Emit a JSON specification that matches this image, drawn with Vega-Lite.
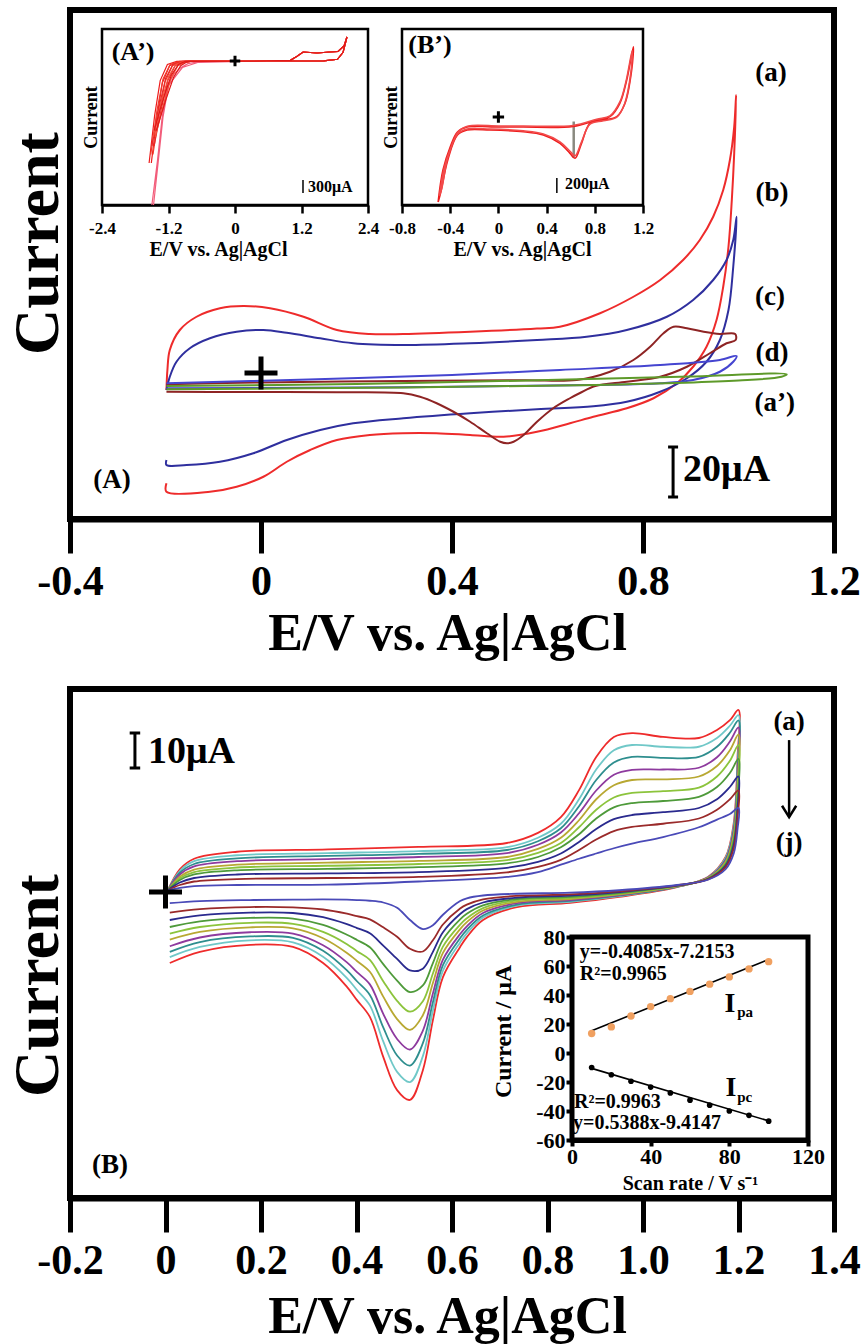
{
"$schema": "https://vega.github.io/schema/vega-lite/v6.json",
"width": 862, "height": 1344, "autosize": "none", "padding": 0, "background": "white",
"config": {
  "view": {"stroke": null},
  "font": "Liberation Serif",
  "axis": {"grid": false, "labelFont": "Liberation Serif", "titleFont": "Liberation Serif", "labelFontWeight": "bold", "titleFontWeight": "bold", "labelColor": "black", "titleColor": "black", "domainColor": "black", "tickColor": "black", "labelFlush": false, "labelOverlap": false},
  "text": {"font": "Liberation Serif", "fontWeight": "bold", "color": "black"}
},
"datasets": {
"A": [
{"c":"a","v":-0.198,"y":-44.1},{"c":"a","v":-0.198,"y":-47.5},{"c":"a","v":-0.107,"y":-47.5},{"c":"a","v":-0.051,"y":-45.5},{"c":"a","v":0.005,"y":-41.5},{"c":"a","v":0.054,"y":-35.5},{"c":"a","v":0.103,"y":-30.8},{"c":"a","v":0.159,"y":-26.8},{"c":"a","v":0.228,"y":-24.8},{"c":"a","v":0.297,"y":-24.1},{"c":"a","v":0.367,"y":-24.1},{"c":"a","v":0.438,"y":-24.8},{"c":"a","v":0.508,"y":-25.5},{"c":"a","v":0.578,"y":-23.5},{"c":"a","v":0.647,"y":-20.1},{"c":"a","v":0.696,"y":-17.5},{"c":"a","v":0.766,"y":-14.1},{"c":"a","v":0.822,"y":-10.1},{"c":"a","v":0.871,"y":-4.1},{"c":"a","v":0.905,"y":2.5},{"c":"a","v":0.933,"y":10.5},{"c":"a","v":0.954,"y":21.2},{"c":"a","v":0.968,"y":34.5},{"c":"a","v":0.979,"y":50.5},{"c":"a","v":0.986,"y":69.2},{"c":"a","v":0.991,"y":87.9},{"c":"a","v":0.995,"y":111.2},{"c":"a","v":0.991,"y":98.5},{"c":"a","v":0.982,"y":85.2},{"c":"a","v":0.968,"y":73.2},{"c":"a","v":0.947,"y":62.5},{"c":"a","v":0.919,"y":53.2},{"c":"a","v":0.884,"y":45.2},{"c":"a","v":0.836,"y":37.2},{"c":"a","v":0.78,"y":30.5},{"c":"a","v":0.71,"y":23.9},{"c":"a","v":0.626,"y":18.5},{"c":"a","v":0.578,"y":17.8},{"c":"a","v":0.438,"y":16.5},{"c":"a","v":0.298,"y":15.6},{"c":"a","v":0.228,"y":15.6},{"c":"a","v":0.159,"y":17.2},{"c":"a","v":0.089,"y":22.5},{"c":"a","v":0.019,"y":25.9},{"c":"a","v":-0.037,"y":26.8},{"c":"a","v":-0.086,"y":25.9},{"c":"a","v":-0.135,"y":22.5},{"c":"a","v":-0.17,"y":17.2},{"c":"a","v":-0.191,"y":9.2},{"c":"a","v":-0.196,"y":1.2},{"c":"a","v":-0.198,"y":-6.8},
{"c":"b","v":-0.198,"y":-34.8},{"c":"b","v":-0.198,"y":-36.8},{"c":"b","v":-0.156,"y":-36.8},{"c":"b","v":-0.086,"y":-35.5},{"c":"b","v":-0.016,"y":-32.1},{"c":"b","v":0.054,"y":-26.8},{"c":"b","v":0.124,"y":-22.8},{"c":"b","v":0.193,"y":-20.1},{"c":"b","v":0.298,"y":-18.1},{"c":"b","v":0.438,"y":-16.1},{"c":"b","v":0.578,"y":-14.5},{"c":"b","v":0.696,"y":-13.3},{"c":"b","v":0.766,"y":-11.5},{"c":"b","v":0.836,"y":-7.5},{"c":"b","v":0.892,"y":-2.1},{"c":"b","v":0.933,"y":4.5},{"c":"b","v":0.961,"y":13.2},{"c":"b","v":0.979,"y":25.2},{"c":"b","v":0.989,"y":42.5},{"c":"b","v":0.996,"y":62.5},{"c":"b","v":0.989,"y":53.2},{"c":"b","v":0.975,"y":45.2},{"c":"b","v":0.947,"y":37.2},{"c":"b","v":0.905,"y":29.2},{"c":"b","v":0.85,"y":22.5},{"c":"b","v":0.766,"y":17.2},{"c":"b","v":0.682,"y":14.5},{"c":"b","v":0.578,"y":13.2},{"c":"b","v":0.438,"y":11.9},{"c":"b","v":0.298,"y":11.2},{"c":"b","v":0.193,"y":11.9},{"c":"b","v":0.124,"y":13.9},{"c":"b","v":0.054,"y":16.1},{"c":"b","v":0.005,"y":17.2},{"c":"b","v":-0.051,"y":16.5},{"c":"b","v":-0.107,"y":13.9},{"c":"b","v":-0.149,"y":9.9},{"c":"b","v":-0.177,"y":4.5},{"c":"b","v":-0.191,"y":-1.5},{"c":"b","v":-0.198,"y":-6.8},
{"c":"c","v":-0.198,"y":-4.5},{"c":"c","v":0.0,"y":-3.8},{"c":"c","v":0.3,"y":-3.2},{"c":"c","v":0.55,"y":-2.9},{"c":"c","v":0.661,"y":-2.8},{"c":"c","v":0.731,"y":0.5},{"c":"c","v":0.78,"y":5.2},{"c":"c","v":0.815,"y":10.5},{"c":"c","v":0.843,"y":15.9},{"c":"c","v":0.864,"y":18.5},{"c":"c","v":0.892,"y":17.9},{"c":"c","v":0.927,"y":16.5},{"c":"c","v":0.961,"y":15.6},{"c":"c","v":0.993,"y":15.6},{"c":"c","v":0.994,"y":13.2},{"c":"c","v":0.975,"y":11.9},{"c":"c","v":0.94,"y":7.9},{"c":"c","v":0.892,"y":2.5},{"c":"c","v":0.836,"y":-1.5},{"c":"c","v":0.766,"y":-3.5},{"c":"c","v":0.7,"y":-5.2},{"c":"c","v":0.668,"y":-8},{"c":"c","v":0.647,"y":-10.1},{"c":"c","v":0.612,"y":-14.1},{"c":"c","v":0.578,"y":-19.5},{"c":"c","v":0.55,"y":-24.8},{"c":"c","v":0.529,"y":-27.5},{"c":"c","v":0.515,"y":-28.1},{"c":"c","v":0.501,"y":-27.5},{"c":"c","v":0.473,"y":-24.1},{"c":"c","v":0.438,"y":-19.5},{"c":"c","v":0.403,"y":-15.5},{"c":"c","v":0.368,"y":-12.1},{"c":"c","v":0.333,"y":-9.5},{"c":"c","v":0.298,"y":-8.1},{"c":"c","v":0.159,"y":-7.7},{"c":"c","v":-0.051,"y":-7.6},{"c":"c","v":-0.198,"y":-7.5},
{"c":"d","v":-0.198,"y":-4.1},{"c":"d","v":0.1,"y":-2.6},{"c":"d","v":0.4,"y":-0.8},{"c":"d","v":0.626,"y":1.2},{"c":"d","v":0.836,"y":3.2},{"c":"d","v":0.961,"y":5.2},{"c":"d","v":0.996,"y":6.8},{"c":"d","v":0.989,"y":4.5},{"c":"d","v":0.961,"y":0.5},{"c":"d","v":0.905,"y":-2.8},{"c":"d","v":0.836,"y":-4.1},{"c":"d","v":0.696,"y":-4.8},{"c":"d","v":0.298,"y":-5.7},{"c":"d","v":-0.198,"y":-6.1},
{"c":"a2","v":-0.198,"y":-5.2},{"c":"a2","v":0.2,"y":-4.4},{"c":"a2","v":0.6,"y":-2.8},{"c":"a2","v":0.9,"y":-1.4},{"c":"a2","v":1.101,"y":-0.5},{"c":"a2","v":1.09,"y":-1.5},{"c":"a2","v":1.0,"y":-3.0},{"c":"a2","v":0.7,"y":-4.8},{"c":"a2","v":0.3,"y":-5.8},{"c":"a2","v":-0.198,"y":-6.5}
],
"An": [
{"k":"lab","v":1.068,"y":120,"t":"(a)"},{"k":"lab","v":1.07,"y":72,"t":"(b)"},{"k":"lab","v":1.066,"y":30.4,"t":"(c)"},{"k":"lab","v":1.07,"y":8,"t":"(d)"},{"k":"lab","v":1.076,"y":-12,"t":"(a’)"},{"k":"lab","v":-0.312,"y":-42.8,"t":"(A)"},
{"k":"big","v":0.884,"y":-38.8,"t":"20μA"},{"k":"plus","v":0,"y":0},{"k":"bar","v":0.863,"y":-39.6}
],
"P1": [
{"c":"p","v":-1.5,"y":-3312},{"c":"p","v":-1.4,"y":-2300},{"c":"p","v":-1.32,"y":-1357},{"c":"p","v":-1.23,"y":-598},{"c":"p","v":-1.1,"y":-300},{"c":"p","v":-0.99,"y":-161},{"c":"p","v":-0.85,"y":-60},{"c":"p","v":-0.69,"y":-23},{"c":"p","v":0.5,"y":0},{"c":"p","v":1.6,"y":5},{"c":"p","v":1.85,"y":40},{"c":"p","v":1.95,"y":200},{"c":"p","v":2.02,"y":552},{"c":"p","v":1.97,"y":350},{"c":"p","v":1.86,"y":220},{"c":"p","v":1.71,"y":207},{"c":"p","v":1.48,"y":184},{"c":"p","v":1.23,"y":207},{"c":"p","v":1.12,"y":110},{"c":"p","v":1.0,"y":15},{"c":"p","v":0.3,"y":-5},{"c":"p","v":-0.66,"y":-30},{"c":"p","v":-0.95,"y":-150},{"c":"p","v":-1.2,"y":-560},{"c":"p","v":-1.3,"y":-1300},{"c":"p","v":-1.38,"y":-2250},{"c":"p","v":-1.47,"y":-3312},
{"c":"k1","v":-1.55,"y":-2346},{"c":"k1","v":-1.45,"y":-1250},{"c":"k1","v":-1.35,"y":-450},{"c":"k1","v":-1.22,"y":-80},{"c":"k1","v":-1.05,"y":-10},{"c":"k1","v":-0.8,"y":0},{"c":"k1","v":0.5,"y":0},{"c":"k1","v":1.6,"y":5},{"c":"k1","v":1.85,"y":40},{"c":"k1","v":1.95,"y":200},{"c":"k1","v":2.02,"y":552},{"c":"k1","v":1.97,"y":350},{"c":"k1","v":1.86,"y":220},{"c":"k1","v":1.71,"y":207},{"c":"k1","v":1.48,"y":184},{"c":"k1","v":1.23,"y":207},{"c":"k1","v":1.12,"y":110},{"c":"k1","v":1.0,"y":15},{"c":"k1","v":0.3,"y":-5},{"c":"k1","v":-0.8,"y":-8},{"c":"k1","v":-1.02,"y":-25},{"c":"k1","v":-1.18,"y":-110},{"c":"k1","v":-1.31,"y":-500},{"c":"k1","v":-1.41,"y":-1300},{"c":"k1","v":-1.51,"y":-2346},
{"c":"k2","v":-1.52,"y":-2150},{"c":"k2","v":-1.41,"y":-1150},{"c":"k2","v":-1.3,"y":-420},{"c":"k2","v":-1.17,"y":-80},{"c":"k2","v":-1.0,"y":-10},{"c":"k2","v":-0.8,"y":0},{"c":"k2","v":0.5,"y":0},{"c":"k2","v":1.6,"y":5},{"c":"k2","v":1.85,"y":40},{"c":"k2","v":1.95,"y":200},{"c":"k2","v":2.02,"y":552},{"c":"k2","v":1.97,"y":350},{"c":"k2","v":1.86,"y":220},{"c":"k2","v":1.71,"y":207},{"c":"k2","v":1.48,"y":184},{"c":"k2","v":1.23,"y":207},{"c":"k2","v":1.12,"y":110},{"c":"k2","v":1.0,"y":15},{"c":"k2","v":0.3,"y":-5},{"c":"k2","v":-0.8,"y":-8},{"c":"k2","v":-0.97,"y":-25},{"c":"k2","v":-1.13,"y":-110},{"c":"k2","v":-1.26,"y":-470},{"c":"k2","v":-1.37,"y":-1200},{"c":"k2","v":-1.48,"y":-2150},
{"c":"k3","v":-1.5,"y":-1950},{"c":"k3","v":-1.37,"y":-1050},{"c":"k3","v":-1.25,"y":-390},{"c":"k3","v":-1.12,"y":-80},{"c":"k3","v":-0.95,"y":-10},{"c":"k3","v":-0.8,"y":0},{"c":"k3","v":0.5,"y":0},{"c":"k3","v":1.6,"y":5},{"c":"k3","v":1.85,"y":40},{"c":"k3","v":1.95,"y":200},{"c":"k3","v":2.02,"y":552},{"c":"k3","v":1.97,"y":350},{"c":"k3","v":1.86,"y":220},{"c":"k3","v":1.71,"y":207},{"c":"k3","v":1.48,"y":184},{"c":"k3","v":1.23,"y":207},{"c":"k3","v":1.12,"y":110},{"c":"k3","v":1.0,"y":15},{"c":"k3","v":0.3,"y":-5},{"c":"k3","v":-0.8,"y":-8},{"c":"k3","v":-0.92,"y":-25},{"c":"k3","v":-1.08,"y":-110},{"c":"k3","v":-1.21,"y":-440},{"c":"k3","v":-1.33,"y":-1100},{"c":"k3","v":-1.46,"y":-1950},
{"c":"k4","v":-1.48,"y":-1750},{"c":"k4","v":-1.33,"y":-950},{"c":"k4","v":-1.2,"y":-360},{"c":"k4","v":-1.07,"y":-80},{"c":"k4","v":-0.92,"y":-10},{"c":"k4","v":-0.8,"y":0},{"c":"k4","v":0.5,"y":0},{"c":"k4","v":1.6,"y":5},{"c":"k4","v":1.85,"y":40},{"c":"k4","v":1.95,"y":200},{"c":"k4","v":2.02,"y":552},{"c":"k4","v":1.97,"y":350},{"c":"k4","v":1.86,"y":220},{"c":"k4","v":1.71,"y":207},{"c":"k4","v":1.48,"y":184},{"c":"k4","v":1.23,"y":207},{"c":"k4","v":1.12,"y":110},{"c":"k4","v":1.0,"y":15},{"c":"k4","v":0.3,"y":-5},{"c":"k4","v":-0.8,"y":-8},{"c":"k4","v":-0.89,"y":-25},{"c":"k4","v":-1.03,"y":-110},{"c":"k4","v":-1.16,"y":-410},{"c":"k4","v":-1.29,"y":-1000},{"c":"k4","v":-1.44,"y":-1750},
{"c":"k5","v":-1.46,"y":-1600},{"c":"k5","v":-1.29,"y":-850},{"c":"k5","v":-1.15,"y":-330},{"c":"k5","v":-1.02,"y":-80},{"c":"k5","v":-0.9,"y":-10},{"c":"k5","v":-0.8,"y":0},{"c":"k5","v":0.5,"y":0},{"c":"k5","v":1.6,"y":5},{"c":"k5","v":1.85,"y":40},{"c":"k5","v":1.95,"y":200},{"c":"k5","v":2.02,"y":552},{"c":"k5","v":1.97,"y":350},{"c":"k5","v":1.86,"y":220},{"c":"k5","v":1.71,"y":207},{"c":"k5","v":1.48,"y":184},{"c":"k5","v":1.23,"y":207},{"c":"k5","v":1.12,"y":110},{"c":"k5","v":1.0,"y":15},{"c":"k5","v":0.3,"y":-5},{"c":"k5","v":-0.8,"y":-8},{"c":"k5","v":-0.87,"y":-25},{"c":"k5","v":-0.98,"y":-110},{"c":"k5","v":-1.11,"y":-380},{"c":"k5","v":-1.25,"y":-900},{"c":"k5","v":-1.42,"y":-1600}
],
"P1n": [
{"k":"lab","v":-1.84,"y":207,"t":"(A’)"},{"k":"sm","v":1.318,"y":-2898,"t":"300μA"},{"k":"plus","v":0,"y":0},{"k":"bar","v":1.227,"y":-2737,"y2":-3036}
],
"P2": [
{"c":"r1","v":-0.5,"y":-1130},{"c":"r1","v":-0.46,"y":-705},{"c":"r1","v":-0.4,"y":-400},{"c":"r1","v":-0.34,"y":-200},{"c":"r1","v":-0.26,"y":-133},{"c":"r1","v":0.0,"y":-133},{"c":"r1","v":0.2,"y":-133},{"c":"r1","v":0.62,"y":-125},{"c":"r1","v":0.816,"y":-40},{"c":"r1","v":0.926,"y":4},{"c":"r1","v":1.008,"y":182},{"c":"r1","v":1.065,"y":492},{"c":"r1","v":1.12,"y":935},{"c":"r1","v":1.106,"y":625},{"c":"r1","v":1.051,"y":182},{"c":"r1","v":0.982,"y":4},{"c":"r1","v":0.871,"y":-40},{"c":"r1","v":0.76,"y":-84},{"c":"r1","v":0.69,"y":-350},{"c":"r1","v":0.636,"y":-549},{"c":"r1","v":0.594,"y":-483},{"c":"r1","v":0.511,"y":-350},{"c":"r1","v":0.373,"y":-239},{"c":"r1","v":0.207,"y":-195},{"c":"r1","v":-0.07,"y":-173},{"c":"r1","v":-0.26,"y":-173},{"c":"r1","v":-0.34,"y":-240},{"c":"r1","v":-0.42,"y":-572},{"c":"r1","v":-0.48,"y":-1011},{"c":"r1","v":-0.5,"y":-1130},
{"c":"r2","v":-0.49,"y":-1050},{"c":"r2","v":-0.45,"y":-680},{"c":"r2","v":-0.39,"y":-390},{"c":"r2","v":-0.33,"y":-190},{"c":"r2","v":-0.25,"y":-120},{"c":"r2","v":0.0,"y":-120},{"c":"r2","v":0.2,"y":-120},{"c":"r2","v":0.62,"y":-112},{"c":"r2","v":0.816,"y":-30},{"c":"r2","v":0.926,"y":14},{"c":"r2","v":1.008,"y":200},{"c":"r2","v":1.06,"y":480},{"c":"r2","v":1.11,"y":880},{"c":"r2","v":1.1,"y":600},{"c":"r2","v":1.046,"y":170},{"c":"r2","v":0.98,"y":-6},{"c":"r2","v":0.871,"y":-50},{"c":"r2","v":0.76,"y":-95},{"c":"r2","v":0.69,"y":-330},{"c":"r2","v":0.636,"y":-515},{"c":"r2","v":0.594,"y":-455},{"c":"r2","v":0.511,"y":-330},{"c":"r2","v":0.373,"y":-225},{"c":"r2","v":0.207,"y":-185},{"c":"r2","v":-0.07,"y":-160},{"c":"r2","v":-0.26,"y":-160},{"c":"r2","v":-0.34,"y":-230},{"c":"r2","v":-0.42,"y":-540},{"c":"r2","v":-0.47,"y":-950},{"c":"r2","v":-0.49,"y":-1050}
],
"P2n": [
{"k":"lab","v":-0.568,"y":958,"t":"(B’)"},{"k":"sm","v":0.552,"y":-891,"t":"200μA"},{"k":"plus","v":0,"y":0},{"k":"bar","v":0.485,"y":-811,"y2":-1011},{"k":"gray","v":0.625,"y":-60,"y2":-540}
],
"B": [
{"c":"a","v":0.005,"y":0.5},{"c":"a","v":0.03,"y":6.5},{"c":"a","v":0.06,"y":9.5},{"c":"a","v":0.15,"y":11.5},{"c":"a","v":0.34,"y":12.2},{"c":"a","v":0.53,"y":12.9},{"c":"a","v":0.715,"y":14},{"c":"a","v":0.78,"y":16.9},{"c":"a","v":0.828,"y":21.4},{"c":"a","v":0.866,"y":29.1},{"c":"a","v":0.902,"y":38.6},{"c":"a","v":0.939,"y":44.3},{"c":"a","v":0.977,"y":45.4},{"c":"a","v":1.042,"y":44.3},{"c":"a","v":1.117,"y":44},{"c":"a","v":1.155,"y":46.3},{"c":"a","v":1.182,"y":49.1},{"c":"a","v":1.2,"y":52},
{"c":"a","v":1.198,"y":38.6},{"c":"a","v":1.19,"y":19.7},{"c":"a","v":1.173,"y":10},{"c":"a","v":1.136,"y":4.3},{"c":"a","v":1.071,"y":1.4},{"c":"a","v":0.95,"y":-1.4},{"c":"a","v":0.847,"y":-3.1},{"c":"a","v":0.736,"y":-4.3},
{"c":"a","v":0.665,"y":-8},{"c":"a","v":0.631,"y":-12.9},{"c":"a","v":0.617,"y":-15.7},{"c":"a","v":0.581,"y":-24.3},{"c":"a","v":0.56,"y":-36.6},{"c":"a","v":0.539,"y":-50.9},{"c":"a","v":0.512,"y":-59.4},{"c":"a","v":0.485,"y":-56.6},{"c":"a","v":0.456,"y":-47.1},{"c":"a","v":0.428,"y":-35.7},{"c":"a","v":0.401,"y":-30.9},{"c":"a","v":0.38,"y":-27.1},{"c":"a","v":0.33,"y":-20.3},{"c":"a","v":0.267,"y":-15.7},{"c":"a","v":0.177,"y":-15.1},{"c":"a","v":0.072,"y":-17.1},{"c":"a","v":0.009,"y":-20.3},
{"c":"b","v":0.005,"y":0.5},{"c":"b","v":0.03,"y":6},{"c":"b","v":0.06,"y":8.8},{"c":"b","v":0.15,"y":10.5},{"c":"b","v":0.34,"y":11.1},{"c":"b","v":0.53,"y":11.7},{"c":"b","v":0.715,"y":12.8},{"c":"b","v":0.78,"y":15.5},{"c":"b","v":0.828,"y":19.5},{"c":"b","v":0.866,"y":26.5},{"c":"b","v":0.902,"y":35},{"c":"b","v":0.939,"y":40.5},{"c":"b","v":0.977,"y":42},{"c":"b","v":1.042,"y":41.5},{"c":"b","v":1.117,"y":41.5},{"c":"b","v":1.155,"y":44},{"c":"b","v":1.182,"y":47.5},{"c":"b","v":1.2,"y":50.5},
{"c":"b","v":1.198,"y":36.5},{"c":"b","v":1.19,"y":18.8},{"c":"b","v":1.173,"y":9.7},{"c":"b","v":1.136,"y":4.2},{"c":"b","v":1.071,"y":1.5},{"c":"b","v":0.95,"y":-1.2},{"c":"b","v":0.847,"y":-2.8},{"c":"b","v":0.736,"y":-3.9},
{"c":"b","v":0.665,"y":-7.3},{"c":"b","v":0.631,"y":-11.8},{"c":"b","v":0.617,"y":-14.4},{"c":"b","v":0.581,"y":-22.5},{"c":"b","v":0.56,"y":-33.9},{"c":"b","v":0.539,"y":-46.9},{"c":"b","v":0.512,"y":-54.3},{"c":"b","v":0.485,"y":-51.4},{"c":"b","v":0.456,"y":-42.7},{"c":"b","v":0.428,"y":-32.4},{"c":"b","v":0.401,"y":-28},{"c":"b","v":0.38,"y":-24.6},{"c":"b","v":0.33,"y":-18.5},{"c":"b","v":0.267,"y":-14.4},{"c":"b","v":0.177,"y":-13.8},{"c":"b","v":0.072,"y":-15.7},{"c":"b","v":0.009,"y":-18.6},
{"c":"c","v":0.005,"y":0.5},{"c":"c","v":0.03,"y":5.5},{"c":"c","v":0.06,"y":8},{"c":"c","v":0.15,"y":9.6},{"c":"c","v":0.34,"y":10.3},{"c":"c","v":0.53,"y":10.9},{"c":"c","v":0.715,"y":12},{"c":"c","v":0.78,"y":14.5},{"c":"c","v":0.828,"y":18.2},{"c":"c","v":0.866,"y":24.5},{"c":"c","v":0.902,"y":32},{"c":"c","v":0.939,"y":37},{"c":"c","v":0.977,"y":38.6},{"c":"c","v":1.042,"y":38.3},{"c":"c","v":1.117,"y":38.6},{"c":"c","v":1.155,"y":41.5},{"c":"c","v":1.182,"y":45.5},{"c":"c","v":1.2,"y":49},
{"c":"c","v":1.198,"y":34.7},{"c":"c","v":1.19,"y":18},{"c":"c","v":1.173,"y":9.3},{"c":"c","v":1.136,"y":4.1},{"c":"c","v":1.071,"y":1.5},{"c":"c","v":0.95,"y":-1},{"c":"c","v":0.847,"y":-2.5},{"c":"c","v":0.736,"y":-3.6},
{"c":"c","v":0.665,"y":-6.7},{"c":"c","v":0.631,"y":-10.8},{"c":"c","v":0.617,"y":-13.2},{"c":"c","v":0.581,"y":-20.9},{"c":"c","v":0.56,"y":-31.5},{"c":"c","v":0.539,"y":-43.2},{"c":"c","v":0.512,"y":-49.6},{"c":"c","v":0.485,"y":-46.7},{"c":"c","v":0.456,"y":-38.7},{"c":"c","v":0.428,"y":-29.4},{"c":"c","v":0.401,"y":-25.5},{"c":"c","v":0.38,"y":-22.4},{"c":"c","v":0.33,"y":-16.8},{"c":"c","v":0.267,"y":-13.1},{"c":"c","v":0.177,"y":-12.7},{"c":"c","v":0.072,"y":-14.3},{"c":"c","v":0.009,"y":-17.1},
{"c":"d","v":0.005,"y":0.5},{"c":"d","v":0.03,"y":5},{"c":"d","v":0.06,"y":7.3},{"c":"d","v":0.15,"y":8.8},{"c":"d","v":0.34,"y":9.4},{"c":"d","v":0.53,"y":10},{"c":"d","v":0.715,"y":11.1},{"c":"d","v":0.78,"y":13.5},{"c":"d","v":0.828,"y":17},{"c":"d","v":0.866,"y":22.5},{"c":"d","v":0.902,"y":29},{"c":"d","v":0.939,"y":33.5},{"c":"d","v":0.977,"y":34.9},{"c":"d","v":1.042,"y":35},{"c":"d","v":1.117,"y":35.5},{"c":"d","v":1.155,"y":38.5},{"c":"d","v":1.182,"y":43},{"c":"d","v":1.2,"y":47},
{"c":"d","v":1.198,"y":32.8},{"c":"d","v":1.19,"y":17.3},{"c":"d","v":1.173,"y":9},{"c":"d","v":1.136,"y":4.1},{"c":"d","v":1.071,"y":1.6},{"c":"d","v":0.95,"y":-0.9},{"c":"d","v":0.847,"y":-2.3},{"c":"d","v":0.736,"y":-3.2},
{"c":"d","v":0.665,"y":-6},{"c":"d","v":0.631,"y":-9.8},{"c":"d","v":0.617,"y":-12},{"c":"d","v":0.581,"y":-19.3},{"c":"d","v":0.56,"y":-29},{"c":"d","v":0.539,"y":-39.6},{"c":"d","v":0.512,"y":-45},{"c":"d","v":0.485,"y":-42},{"c":"d","v":0.456,"y":-34.8},{"c":"d","v":0.428,"y":-26.4},{"c":"d","v":0.401,"y":-22.9},{"c":"d","v":0.38,"y":-20.1},{"c":"d","v":0.33,"y":-15.2},{"c":"d","v":0.267,"y":-11.9},{"c":"d","v":0.177,"y":-11.5},{"c":"d","v":0.072,"y":-13},{"c":"d","v":0.009,"y":-15.5},
{"c":"e","v":0.005,"y":0.5},{"c":"e","v":0.03,"y":4.4},{"c":"e","v":0.06,"y":6.4},{"c":"e","v":0.15,"y":7.8},{"c":"e","v":0.34,"y":8.4},{"c":"e","v":0.53,"y":8.9},{"c":"e","v":0.715,"y":10},{"c":"e","v":0.78,"y":12.3},{"c":"e","v":0.828,"y":15.5},{"c":"e","v":0.866,"y":20.5},{"c":"e","v":0.902,"y":26.5},{"c":"e","v":0.939,"y":30.5},{"c":"e","v":0.977,"y":32},{"c":"e","v":1.042,"y":32.2},{"c":"e","v":1.117,"y":33},{"c":"e","v":1.155,"y":36},{"c":"e","v":1.182,"y":40.5},{"c":"e","v":1.2,"y":45},
{"c":"e","v":1.198,"y":30.6},{"c":"e","v":1.19,"y":16.3},{"c":"e","v":1.173,"y":8.6},{"c":"e","v":1.136,"y":4},{"c":"e","v":1.071,"y":1.6},{"c":"e","v":0.95,"y":-0.7},{"c":"e","v":0.847,"y":-2},{"c":"e","v":0.736,"y":-2.8},
{"c":"e","v":0.665,"y":-5.3},{"c":"e","v":0.631,"y":-8.6},{"c":"e","v":0.617,"y":-10.6},{"c":"e","v":0.581,"y":-17.4},{"c":"e","v":0.56,"y":-26},{"c":"e","v":0.539,"y":-35.2},{"c":"e","v":0.512,"y":-39.4},{"c":"e","v":0.485,"y":-36.3},{"c":"e","v":0.456,"y":-29.9},{"c":"e","v":0.428,"y":-22.8},{"c":"e","v":0.401,"y":-19.7},{"c":"e","v":0.38,"y":-17.4},{"c":"e","v":0.33,"y":-13.2},{"c":"e","v":0.267,"y":-10.4},{"c":"e","v":0.177,"y":-10.1},{"c":"e","v":0.072,"y":-11.4},{"c":"e","v":0.009,"y":-13.6},
{"c":"f","v":0.005,"y":0.5},{"c":"f","v":0.03,"y":3.9},{"c":"f","v":0.06,"y":5.7},{"c":"f","v":0.15,"y":7},{"c":"f","v":0.34,"y":7.5},{"c":"f","v":0.53,"y":8},{"c":"f","v":0.715,"y":9.1},{"c":"f","v":0.78,"y":11.2},{"c":"f","v":0.828,"y":14},{"c":"f","v":0.866,"y":18.5},{"c":"f","v":0.902,"y":23.5},{"c":"f","v":0.939,"y":27},{"c":"f","v":0.977,"y":28.3},{"c":"f","v":1.042,"y":28.8},{"c":"f","v":1.117,"y":29.8},{"c":"f","v":1.155,"y":33},{"c":"f","v":1.182,"y":37.5},{"c":"f","v":1.2,"y":42},
{"c":"f","v":1.198,"y":28.5},{"c":"f","v":1.19,"y":15.4},{"c":"f","v":1.173,"y":8.3},{"c":"f","v":1.136,"y":3.9},{"c":"f","v":1.071,"y":1.7},{"c":"f","v":0.95,"y":-0.5},{"c":"f","v":0.847,"y":-1.7},{"c":"f","v":0.736,"y":-2.4},
{"c":"f","v":0.665,"y":-4.6},{"c":"f","v":0.631,"y":-7.5},{"c":"f","v":0.617,"y":-9.3},{"c":"f","v":0.581,"y":-15.6},{"c":"f","v":0.56,"y":-23.3},{"c":"f","v":0.539,"y":-31.2},{"c":"f","v":0.512,"y":-34.2},{"c":"f","v":0.485,"y":-31.1},{"c":"f","v":0.456,"y":-25.5},{"c":"f","v":0.428,"y":-19.4},{"c":"f","v":0.401,"y":-16.9},{"c":"f","v":0.38,"y":-14.9},{"c":"f","v":0.33,"y":-11.4},{"c":"f","v":0.267,"y":-9.1},{"c":"f","v":0.177,"y":-8.8},{"c":"f","v":0.072,"y":-10},{"c":"f","v":0.009,"y":-11.9},
{"c":"g","v":0.005,"y":0.5},{"c":"g","v":0.03,"y":3.4},{"c":"g","v":0.06,"y":5},{"c":"g","v":0.15,"y":6.2},{"c":"g","v":0.34,"y":6.6},{"c":"g","v":0.53,"y":7.1},{"c":"g","v":0.715,"y":8.2},{"c":"g","v":0.78,"y":10},{"c":"g","v":0.828,"y":12.8},{"c":"g","v":0.866,"y":16.5},{"c":"g","v":0.902,"y":21},{"c":"g","v":0.939,"y":24.2},{"c":"g","v":0.977,"y":25.4},{"c":"g","v":1.042,"y":26},{"c":"g","v":1.117,"y":27.2},{"c":"g","v":1.155,"y":30},{"c":"g","v":1.182,"y":34},{"c":"g","v":1.2,"y":38},
{"c":"g","v":1.198,"y":26.2},{"c":"g","v":1.19,"y":14.5},{"c":"g","v":1.173,"y":7.9},{"c":"g","v":1.136,"y":3.8},{"c":"g","v":1.071,"y":1.8},{"c":"g","v":0.95,"y":-0.3},{"c":"g","v":0.847,"y":-1.4},{"c":"g","v":0.736,"y":-2},
{"c":"g","v":0.665,"y":-3.8},{"c":"g","v":0.631,"y":-6.2},{"c":"g","v":0.617,"y":-7.8},{"c":"g","v":0.581,"y":-13.6},{"c":"g","v":0.56,"y":-20.3},{"c":"g","v":0.539,"y":-26.7},{"c":"g","v":0.512,"y":-28.6},{"c":"g","v":0.485,"y":-25.3},{"c":"g","v":0.456,"y":-20.6},{"c":"g","v":0.428,"y":-15.8},{"c":"g","v":0.401,"y":-13.7},{"c":"g","v":0.38,"y":-12.2},{"c":"g","v":0.33,"y":-9.4},{"c":"g","v":0.267,"y":-7.6},{"c":"g","v":0.177,"y":-7.4},{"c":"g","v":0.072,"y":-8.4},{"c":"g","v":0.009,"y":-10},
{"c":"h","v":0.005,"y":0.5},{"c":"h","v":0.03,"y":2.7},{"c":"h","v":0.06,"y":4},{"c":"h","v":0.15,"y":5},{"c":"h","v":0.34,"y":5.3},{"c":"h","v":0.53,"y":5.7},{"c":"h","v":0.715,"y":6.9},{"c":"h","v":0.78,"y":8.6},{"c":"h","v":0.828,"y":11},{"c":"h","v":0.866,"y":14.3},{"c":"h","v":0.902,"y":18},{"c":"h","v":0.939,"y":20.8},{"c":"h","v":0.977,"y":22},{"c":"h","v":1.042,"y":22.8},{"c":"h","v":1.117,"y":24},{"c":"h","v":1.155,"y":26.5},{"c":"h","v":1.182,"y":30},{"c":"h","v":1.2,"y":33},
{"c":"h","v":1.198,"y":23.8},{"c":"h","v":1.19,"y":13.4},{"c":"h","v":1.173,"y":7.5},{"c":"h","v":1.136,"y":3.7},{"c":"h","v":1.071,"y":1.8},{"c":"h","v":0.95,"y":0},{"c":"h","v":0.847,"y":-1},{"c":"h","v":0.736,"y":-1.6},
{"c":"h","v":0.665,"y":-3},{"c":"h","v":0.631,"y":-4.9},{"c":"h","v":0.617,"y":-6.3},{"c":"h","v":0.581,"y":-11.5},{"c":"h","v":0.56,"y":-17.1},{"c":"h","v":0.539,"y":-21.9},{"c":"h","v":0.512,"y":-22.4},{"c":"h","v":0.485,"y":-19.1},{"c":"h","v":0.456,"y":-15.3},{"c":"h","v":0.428,"y":-11.8},{"c":"h","v":0.401,"y":-10.3},{"c":"h","v":0.38,"y":-9.2},{"c":"h","v":0.33,"y":-7.2},{"c":"h","v":0.267,"y":-6},{"c":"h","v":0.177,"y":-5.9},{"c":"h","v":0.072,"y":-6.7},{"c":"h","v":0.009,"y":-8},
{"c":"i","v":0.005,"y":0.5},{"c":"i","v":0.03,"y":2},{"c":"i","v":0.06,"y":3},{"c":"i","v":0.15,"y":3.7},{"c":"i","v":0.34,"y":4},{"c":"i","v":0.53,"y":4.3},{"c":"i","v":0.715,"y":5.6},{"c":"i","v":0.78,"y":7.2},{"c":"i","v":0.828,"y":9.2},{"c":"i","v":0.866,"y":12},{"c":"i","v":0.902,"y":15},{"c":"i","v":0.939,"y":17.4},{"c":"i","v":0.977,"y":18.6},{"c":"i","v":1.042,"y":19.5},{"c":"i","v":1.117,"y":21},{"c":"i","v":1.155,"y":23.5},{"c":"i","v":1.182,"y":26.5},{"c":"i","v":1.2,"y":29},
{"c":"i","v":1.198,"y":21.3},{"c":"i","v":1.19,"y":12.4},{"c":"i","v":1.173,"y":7.1},{"c":"i","v":1.136,"y":3.6},{"c":"i","v":1.071,"y":1.9},{"c":"i","v":0.95,"y":0.2},{"c":"i","v":0.847,"y":-0.7},{"c":"i","v":0.736,"y":-1.1},
{"c":"i","v":0.665,"y":-2.1},{"c":"i","v":0.631,"y":-3.6},{"c":"i","v":0.617,"y":-4.7},{"c":"i","v":0.581,"y":-9.3},{"c":"i","v":0.56,"y":-13.8},{"c":"i","v":0.539,"y":-17},{"c":"i","v":0.512,"y":-16.2},{"c":"i","v":0.485,"y":-12.8},{"c":"i","v":0.456,"y":-10.1},{"c":"i","v":0.428,"y":-7.8},{"c":"i","v":0.401,"y":-6.9},{"c":"i","v":0.38,"y":-6.2},{"c":"i","v":0.33,"y":-5},{"c":"i","v":0.267,"y":-4.4},{"c":"i","v":0.177,"y":-4.3},{"c":"i","v":0.072,"y":-4.9},{"c":"i","v":0.009,"y":-5.9},
{"c":"j","v":0.005,"y":0.5},{"c":"j","v":0.03,"y":1.2},{"c":"j","v":0.06,"y":1.7},{"c":"j","v":0.15,"y":2},{"c":"j","v":0.34,"y":2.1},{"c":"j","v":0.53,"y":3},{"c":"j","v":0.715,"y":4.3},{"c":"j","v":0.78,"y":5.7},{"c":"j","v":0.828,"y":7.8},{"c":"j","v":0.866,"y":9.5},{"c":"j","v":0.902,"y":11},{"c":"j","v":0.939,"y":12.5},{"c":"j","v":0.977,"y":13.8},{"c":"j","v":1.042,"y":15.7},{"c":"j","v":1.117,"y":18.5},{"c":"j","v":1.155,"y":20.7},{"c":"j","v":1.182,"y":22.3},{"c":"j","v":1.2,"y":24},
{"c":"j","v":1.198,"y":18},{"c":"j","v":1.19,"y":11},{"c":"j","v":1.173,"y":6.5},{"c":"j","v":1.136,"y":3.5},{"c":"j","v":1.071,"y":2},{"c":"j","v":0.95,"y":0.5},{"c":"j","v":0.847,"y":-0.2},{"c":"j","v":0.736,"y":-0.5},
{"c":"j","v":0.665,"y":-1},{"c":"j","v":0.631,"y":-1.8},{"c":"j","v":0.617,"y":-2.6},{"c":"j","v":0.581,"y":-6.5},{"c":"j","v":0.56,"y":-9.5},{"c":"j","v":0.539,"y":-10.6},{"c":"j","v":0.512,"y":-8},{"c":"j","v":0.485,"y":-4.5},{"c":"j","v":0.456,"y":-3},{"c":"j","v":0.428,"y":-2.5},{"c":"j","v":0.401,"y":-2.3},{"c":"j","v":0.38,"y":-2.2},{"c":"j","v":0.33,"y":-2.1},{"c":"j","v":0.267,"y":-2.2},{"c":"j","v":0.177,"y":-2.3},{"c":"j","v":0.072,"y":-2.6},{"c":"j","v":0.009,"y":-3.2}
],
"Bn": [
{"k":"lab","v":1.306,"y":48.6,"t":"(a)"},{"k":"lab","v":1.306,"y":14,"t":"(j)"},{"k":"lab","v":-0.116,"y":-78,"t":"(B)"},
{"k":"big","v":-0.0366,"y":40,"t":"10μA"},{"k":"plus","v":0,"y":0},{"k":"bar","v":-0.064,"y":40.4},
{"k":"arrow","v":1.306,"y":43.4,"y2":21.4},{"k":"head","v":1.306,"y":21.4}
],
"R": [
{"s":"pa","x":10,"y":13.5},{"s":"pa","x":20,"y":18},{"s":"pa","x":30,"y":25.5},{"s":"pa","x":40,"y":32},{"s":"pa","x":50,"y":37.5},{"s":"pa","x":60,"y":42.5},{"s":"pa","x":70,"y":47.5},{"s":"pa","x":80,"y":52.5},{"s":"pa","x":90,"y":58},{"s":"pa","x":100,"y":63},
{"s":"pc","x":10,"y":-10},{"s":"pc","x":20,"y":-15},{"s":"pc","x":30,"y":-19.5},{"s":"pc","x":40,"y":-23.5},{"s":"pc","x":50,"y":-27.5},{"s":"pc","x":60,"y":-32.5},{"s":"pc","x":70,"y":-36},{"s":"pc","x":80,"y":-40},{"s":"pc","x":90,"y":-43},{"s":"pc","x":100,"y":-47}
],
"RL": [
{"s":"pa","x":10,"y":15.3},{"s":"pa","x":100,"y":64.5},{"s":"pc","x":10,"y":-10.6},{"s":"pc","x":100,"y":-46.8}
],
"Rn": [
{"k":"eq","x":4,"y":69.7,"t":"y=-0.4085x-7.2153"},{"k":"eq","x":4,"y":54.5,"t":"R²=0.9965"},{"k":"eq","x":1,"y":-33.5,"t":"R²=0.9963"},{"k":"eq","x":0.5,"y":-48,"t":"y=0.5388x-9.4147"},
{"k":"I","x":80.3,"y":33.8,"t":"I"},{"k":"I","x":80.8,"y":-24.1,"t":"I"},
{"k":"sub","x":84,"y":28.3,"t":"pa"},{"k":"sub","x":84,"y":-30.3,"t":"pc"}
]
},
"layer": [
{
 "layer": [
  {"data": {"values": [{}]},
   "mark": {"type": "rect", "fill": "transparent", "stroke": "black", "strokeWidth": 6},
   "encoding": {
    "x": {"datum": -0.4, "type": "quantitative", "scale": {"domain": [-0.4, 1.2], "range": [70, 834], "nice": false, "zero": false},
      "axis": {"orient": "bottom", "offset": -825, "values": [-0.4, 0, 0.4, 0.8, 1.2], "tickSize": 34, "tickWidth": 5, "domainWidth": 6, "labelFontSize": 42, "labelPadding": 8,
        "labelExpr": "datum.value == 0 ? '0' : (datum.value < 0 ? '-' : '') + format(abs(datum.value), '.1f')",
        "title": "E/V vs. Ag|AgCl", "titleFontSize": 52, "titleX": 447, "titleY": 114, "titleAlign": "center", "titleBaseline": "middle", "titleAngle": 0}},
    "x2": {"datum": 1.2},
    "y": {"datum": -58.4, "type": "quantitative", "scale": {"domain": [-58.4, 145.2], "range": [519, 10], "nice": false, "zero": false},
      "axis": {"orient": "left", "offset": 0, "domain": false, "ticks": false, "labels": false, "title": "Current", "titleFontSize": 64, "titleX": 38, "titleY": 243, "titleAngle": 270, "titleAlign": "center", "titleBaseline": "middle"}},
    "y2": {"datum": 145.2}
   }},
  {"data": {"name": "A"},
   "mark": {"type": "line", "strokeWidth": 2, "interpolate": "catmull-rom"},
   "encoding": {
    "x": {"field": "v", "type": "quantitative", "scale": {"domain": [-0.4, 1.2], "range": [70, 834], "nice": false, "zero": false}},
    "y": {"field": "y", "type": "quantitative", "scale": {"domain": [-58.4, 145.2], "range": [519, 10], "nice": false, "zero": false}},
    "color": {"field": "c", "type": "nominal", "scale": {"domain": ["a", "b", "c", "d", "a2"], "range": ["#EE2B2B", "#2F2F9E", "#8E2424", "#4545D0", "#5E9A2A"]}, "legend": null},
    "order": {"value": null}
   }},
  {"data": {"name": "An"}, "transform": [{"filter": "datum.k == 'lab'"}],
   "mark": {"type": "text", "fontSize": 27, "align": "center", "baseline": "middle"},
   "encoding": {"x": {"field": "v", "type": "quantitative", "scale": {"domain": [-0.4, 1.2], "range": [70, 834], "nice": false, "zero": false}},
     "y": {"field": "y", "type": "quantitative", "scale": {"domain": [-58.4, 145.2], "range": [519, 10], "nice": false, "zero": false}}, "text": {"field": "t"}}},
  {"data": {"name": "An"}, "transform": [{"filter": "datum.k == 'big'"}],
   "mark": {"type": "text", "fontSize": 38, "align": "left", "baseline": "middle"},
   "encoding": {"x": {"field": "v", "type": "quantitative", "scale": {"domain": [-0.4, 1.2], "range": [70, 834], "nice": false, "zero": false}},
     "y": {"field": "y", "type": "quantitative", "scale": {"domain": [-58.4, 145.2], "range": [519, 10], "nice": false, "zero": false}}, "text": {"field": "t"}}},
  {"data": {"name": "An"}, "transform": [{"filter": "datum.k == 'plus'"}],
   "mark": {"type": "point", "shape": "M-1,0H1M0,-1V1", "filled": false, "stroke": "black", "strokeWidth": 5, "size": 1089, "opacity": 1},
   "encoding": {"x": {"field": "v", "type": "quantitative", "scale": {"domain": [-0.4, 1.2], "range": [70, 834], "nice": false, "zero": false}},
     "y": {"field": "y", "type": "quantitative", "scale": {"domain": [-58.4, 145.2], "range": [519, 10], "nice": false, "zero": false}}}},
  {"data": {"name": "An"}, "transform": [{"filter": "datum.k == 'bar'"}],
   "mark": {"type": "point", "shape": "M-0.2,-1H0.2M0,-1V1M-0.2,1H0.2", "filled": false, "stroke": "black", "strokeWidth": 3, "size": 2500, "opacity": 1},
   "encoding": {"x": {"field": "v", "type": "quantitative", "scale": {"domain": [-0.4, 1.2], "range": [70, 834], "nice": false, "zero": false}},
     "y": {"field": "y", "type": "quantitative", "scale": {"domain": [-58.4, 145.2], "range": [519, 10], "nice": false, "zero": false}}}}
 ]
},
{
 "layer": [
  {"data": {"values": [{}]},
   "mark": {"type": "rect", "fill": "white", "stroke": "black", "strokeWidth": 2.5},
   "encoding": {
    "x": {"datum": -2.4, "type": "quantitative", "scale": {"domain": [-2.4, 2.4], "range": [102, 368], "nice": false, "zero": false},
      "axis": {"orient": "bottom", "offset": -1139, "values": [-2.4, -1.2, 0, 1.2, 2.4], "tickSize": 8, "tickWidth": 2.5, "domainWidth": 2.5, "labelFontSize": 17, "labelPadding": 7,
        "labelExpr": "datum.value == 0 ? '0' : (datum.value < 0 ? '-' : '') + format(abs(datum.value), '.1f')",
        "title": "E/V vs. Ag|AgCl", "titleFontSize": 20, "titleX": 218, "titleY": 44, "titleAlign": "center", "titleBaseline": "middle", "titleAngle": 0}},
    "x2": {"datum": 2.4},
    "y": {"datum": -3312, "type": "quantitative", "scale": {"domain": [-3312, 736], "range": [205, 29], "nice": false, "zero": false},
      "axis": {"orient": "left", "offset": 0, "domain": false, "ticks": false, "labels": false, "title": "Current", "titleFontSize": 18, "titleX": 91, "titleY": 117, "titleAngle": 270, "titleAlign": "center", "titleBaseline": "middle"}},
    "y2": {"datum": 736}
   }},
  {"data": {"name": "P1"},
   "mark": {"type": "line", "strokeWidth": 1.2},
   "encoding": {
    "x": {"field": "v", "type": "quantitative", "scale": {"domain": [-2.4, 2.4], "range": [102, 368], "nice": false, "zero": false}},
    "y": {"field": "y", "type": "quantitative", "scale": {"domain": [-3312, 736], "range": [205, 29], "nice": false, "zero": false}},
    "color": {"field": "c", "type": "nominal", "scale": {"domain": ["p", "k1", "k2", "k3", "k4", "k5"], "range": ["#F25C7A", "#EE1C1C", "#F23A2A", "#E82A2A", "#F5503A", "#E01818"]}, "legend": null},
    "order": {"value": null}
   }},
  {"data": {"name": "P1n"}, "transform": [{"filter": "datum.k == 'lab'"}],
   "mark": {"type": "text", "fontSize": 26, "align": "center", "baseline": "middle"},
   "encoding": {"x": {"field": "v", "type": "quantitative", "scale": {"domain": [-2.4, 2.4], "range": [102, 368], "nice": false, "zero": false}},
     "y": {"field": "y", "type": "quantitative", "scale": {"domain": [-3312, 736], "range": [205, 29], "nice": false, "zero": false}}, "text": {"field": "t"}}},
  {"data": {"name": "P1n"}, "transform": [{"filter": "datum.k == 'sm'"}],
   "mark": {"type": "text", "fontSize": 16, "align": "left", "baseline": "middle"},
   "encoding": {"x": {"field": "v", "type": "quantitative", "scale": {"domain": [-2.4, 2.4], "range": [102, 368], "nice": false, "zero": false}},
     "y": {"field": "y", "type": "quantitative", "scale": {"domain": [-3312, 736], "range": [205, 29], "nice": false, "zero": false}}, "text": {"field": "t"}}},
  {"data": {"name": "P1n"}, "transform": [{"filter": "datum.k == 'plus'"}],
   "mark": {"type": "point", "shape": "M-1,0H1M0,-1V1", "filled": false, "stroke": "black", "strokeWidth": 3, "size": 110, "opacity": 1},
   "encoding": {"x": {"field": "v", "type": "quantitative", "scale": {"domain": [-2.4, 2.4], "range": [102, 368], "nice": false, "zero": false}},
     "y": {"field": "y", "type": "quantitative", "scale": {"domain": [-3312, 736], "range": [205, 29], "nice": false, "zero": false}}}},
  {"data": {"name": "P1n"}, "transform": [{"filter": "datum.k == 'bar'"}],
   "mark": {"type": "rule", "color": "black", "strokeWidth": 1.5},
   "encoding": {"x": {"field": "v", "type": "quantitative", "scale": {"domain": [-2.4, 2.4], "range": [102, 368], "nice": false, "zero": false}},
     "y": {"field": "y", "type": "quantitative", "scale": {"domain": [-3312, 736], "range": [205, 29], "nice": false, "zero": false}}, "y2": {"field": "y2"}}}
 ]
},
{
 "layer": [
  {"data": {"values": [{}]},
   "mark": {"type": "rect", "fill": "white", "stroke": "black", "strokeWidth": 2.5},
   "encoding": {
    "x": {"datum": -0.8, "type": "quantitative", "scale": {"domain": [-0.8, 1.2], "range": [402, 643], "nice": false, "zero": false},
      "axis": {"orient": "bottom", "offset": -1139, "values": [-0.8, -0.4, 0, 0.4, 0.8, 1.2], "tickSize": 8, "tickWidth": 2.5, "domainWidth": 2.5, "labelFontSize": 17, "labelPadding": 7,
        "labelExpr": "datum.value == 0 ? '0' : (datum.value < 0 ? '-' : '') + format(abs(datum.value), '.1f')",
        "title": "E/V vs. Ag|AgCl", "titleFontSize": 20, "titleX": 522, "titleY": 44, "titleAlign": "center", "titleBaseline": "middle", "titleAngle": 0}},
    "x2": {"datum": 1.2},
    "y": {"datum": -1170, "type": "quantitative", "scale": {"domain": [-1170, 1170], "range": [205, 29], "nice": false, "zero": false},
      "axis": {"orient": "left", "offset": 0, "domain": false, "ticks": false, "labels": false, "title": "Current", "titleFontSize": 18, "titleX": 391, "titleY": 117, "titleAngle": 270, "titleAlign": "center", "titleBaseline": "middle"}},
    "y2": {"datum": 1170}
   }},
  {"data": {"name": "P2n"}, "transform": [{"filter": "datum.k == 'gray'"}],
   "mark": {"type": "rule", "color": "#8A8A80", "strokeWidth": 2.5},
   "encoding": {"x": {"field": "v", "type": "quantitative", "scale": {"domain": [-0.8, 1.2], "range": [402, 643], "nice": false, "zero": false}},
     "y": {"field": "y", "type": "quantitative", "scale": {"domain": [-1170, 1170], "range": [205, 29], "nice": false, "zero": false}}, "y2": {"field": "y2"}}},
  {"data": {"name": "P2"},
   "mark": {"type": "line", "strokeWidth": 1.6, "interpolate": "catmull-rom"},
   "encoding": {
    "x": {"field": "v", "type": "quantitative", "scale": {"domain": [-0.8, 1.2], "range": [402, 643], "nice": false, "zero": false}},
    "y": {"field": "y", "type": "quantitative", "scale": {"domain": [-1170, 1170], "range": [205, 29], "nice": false, "zero": false}},
    "color": {"field": "c", "type": "nominal", "scale": {"domain": ["r1", "r2"], "range": ["#EE1C1C", "#F24A4A"]}, "legend": null},
    "order": {"value": null}
   }},
  {"data": {"name": "P2n"}, "transform": [{"filter": "datum.k == 'lab'"}],
   "mark": {"type": "text", "fontSize": 26, "align": "center", "baseline": "middle"},
   "encoding": {"x": {"field": "v", "type": "quantitative", "scale": {"domain": [-0.8, 1.2], "range": [402, 643], "nice": false, "zero": false}},
     "y": {"field": "y", "type": "quantitative", "scale": {"domain": [-1170, 1170], "range": [205, 29], "nice": false, "zero": false}}, "text": {"field": "t"}}},
  {"data": {"name": "P2n"}, "transform": [{"filter": "datum.k == 'sm'"}],
   "mark": {"type": "text", "fontSize": 16, "align": "left", "baseline": "middle"},
   "encoding": {"x": {"field": "v", "type": "quantitative", "scale": {"domain": [-0.8, 1.2], "range": [402, 643], "nice": false, "zero": false}},
     "y": {"field": "y", "type": "quantitative", "scale": {"domain": [-1170, 1170], "range": [205, 29], "nice": false, "zero": false}}, "text": {"field": "t"}}},
  {"data": {"name": "P2n"}, "transform": [{"filter": "datum.k == 'plus'"}],
   "mark": {"type": "point", "shape": "M-1,0H1M0,-1V1", "filled": false, "stroke": "black", "strokeWidth": 3, "size": 130, "opacity": 1},
   "encoding": {"x": {"field": "v", "type": "quantitative", "scale": {"domain": [-0.8, 1.2], "range": [402, 643], "nice": false, "zero": false}},
     "y": {"field": "y", "type": "quantitative", "scale": {"domain": [-1170, 1170], "range": [205, 29], "nice": false, "zero": false}}}},
  {"data": {"name": "P2n"}, "transform": [{"filter": "datum.k == 'bar'"}],
   "mark": {"type": "rule", "color": "black", "strokeWidth": 1.5},
   "encoding": {"x": {"field": "v", "type": "quantitative", "scale": {"domain": [-0.8, 1.2], "range": [402, 643], "nice": false, "zero": false}},
     "y": {"field": "y", "type": "quantitative", "scale": {"domain": [-1170, 1170], "range": [205, 29], "nice": false, "zero": false}}, "y2": {"field": "y2"}}}
 ]
},
{
 "layer": [
  {"data": {"values": [{}]},
   "mark": {"type": "rect", "fill": "transparent", "stroke": "black", "strokeWidth": 6},
   "encoding": {
    "x": {"datum": -0.2, "type": "quantitative", "scale": {"domain": [-0.2, 1.4], "range": [70, 834], "nice": false, "zero": false},
      "axis": {"orient": "bottom", "offset": -146, "values": [-0.2, 0, 0.2, 0.4, 0.6, 0.8, 1.0, 1.2, 1.4], "tickSize": 34, "tickWidth": 5, "domainWidth": 6, "labelFontSize": 42, "labelPadding": 8,
        "labelExpr": "datum.value == 0 ? '0' : (datum.value < 0 ? '-' : '') + format(abs(datum.value), '.1f')",
        "title": "E/V vs. Ag|AgCl", "titleFontSize": 52, "titleX": 447, "titleY": 118, "titleAlign": "center", "titleBaseline": "middle", "titleAngle": 0}},
    "x2": {"datum": 1.4},
    "y": {"datum": -87.43, "type": "quantitative", "scale": {"domain": [-87.43, 58], "range": [1198, 689], "nice": false, "zero": false},
      "axis": {"orient": "left", "offset": 0, "domain": false, "ticks": false, "labels": false, "title": "Current", "titleFontSize": 64, "titleX": 38, "titleY": 985, "titleAngle": 270, "titleAlign": "center", "titleBaseline": "middle"}},
    "y2": {"datum": 58}
   }},
  {"data": {"name": "B"},
   "mark": {"type": "line", "strokeWidth": 1.8, "interpolate": "catmull-rom"},
   "encoding": {
    "x": {"field": "v", "type": "quantitative", "scale": {"domain": [-0.2, 1.4], "range": [70, 834], "nice": false, "zero": false}},
    "y": {"field": "y", "type": "quantitative", "scale": {"domain": [-87.43, 58], "range": [1198, 689], "nice": false, "zero": false}},
    "color": {"field": "c", "type": "nominal", "scale": {"domain": ["a", "b", "c", "d", "e", "f", "g", "h", "i", "j"], "range": ["#EE2B2B", "#70C8C8", "#2E8E8E", "#8E3A9E", "#B8A832", "#8CC43C", "#4E9A3A", "#2A2A8E", "#9A2A2A", "#4A4AB8"]}, "legend": null},
    "order": {"value": null}
   }},
  {"data": {"name": "Bn"}, "transform": [{"filter": "datum.k == 'lab'"}],
   "mark": {"type": "text", "fontSize": 27, "align": "center", "baseline": "middle"},
   "encoding": {"x": {"field": "v", "type": "quantitative", "scale": {"domain": [-0.2, 1.4], "range": [70, 834], "nice": false, "zero": false}},
     "y": {"field": "y", "type": "quantitative", "scale": {"domain": [-87.43, 58], "range": [1198, 689], "nice": false, "zero": false}}, "text": {"field": "t"}}},
  {"data": {"name": "Bn"}, "transform": [{"filter": "datum.k == 'big'"}],
   "mark": {"type": "text", "fontSize": 38, "align": "left", "baseline": "middle"},
   "encoding": {"x": {"field": "v", "type": "quantitative", "scale": {"domain": [-0.2, 1.4], "range": [70, 834], "nice": false, "zero": false}},
     "y": {"field": "y", "type": "quantitative", "scale": {"domain": [-87.43, 58], "range": [1198, 689], "nice": false, "zero": false}}, "text": {"field": "t"}}},
  {"data": {"name": "Bn"}, "transform": [{"filter": "datum.k == 'plus'"}],
   "mark": {"type": "point", "shape": "M-1,0H1M0,-1V1", "filled": false, "stroke": "black", "strokeWidth": 5, "size": 1089, "opacity": 1},
   "encoding": {"x": {"field": "v", "type": "quantitative", "scale": {"domain": [-0.2, 1.4], "range": [70, 834], "nice": false, "zero": false}},
     "y": {"field": "y", "type": "quantitative", "scale": {"domain": [-87.43, 58], "range": [1198, 689], "nice": false, "zero": false}}}},
  {"data": {"name": "Bn"}, "transform": [{"filter": "datum.k == 'bar'"}],
   "mark": {"type": "point", "shape": "M-0.3,-1H0.3M0,-1V1M-0.3,1H0.3", "filled": false, "stroke": "black", "strokeWidth": 3, "size": 1225, "opacity": 1},
   "encoding": {"x": {"field": "v", "type": "quantitative", "scale": {"domain": [-0.2, 1.4], "range": [70, 834], "nice": false, "zero": false}},
     "y": {"field": "y", "type": "quantitative", "scale": {"domain": [-87.43, 58], "range": [1198, 689], "nice": false, "zero": false}}}},
  {"data": {"name": "Bn"}, "transform": [{"filter": "datum.k == 'arrow'"}],
   "mark": {"type": "rule", "color": "black", "strokeWidth": 2.5},
   "encoding": {"x": {"field": "v", "type": "quantitative", "scale": {"domain": [-0.2, 1.4], "range": [70, 834], "nice": false, "zero": false}},
     "y": {"field": "y", "type": "quantitative", "scale": {"domain": [-87.43, 58], "range": [1198, 689], "nice": false, "zero": false}}, "y2": {"field": "y2"}}},
  {"data": {"name": "Bn"}, "transform": [{"filter": "datum.k == 'head'"}],
   "mark": {"type": "point", "shape": "M-1,-1.6L0,0L1,-1.6", "filled": false, "stroke": "black", "strokeWidth": 2.5, "size": 200, "opacity": 1},
   "encoding": {"x": {"field": "v", "type": "quantitative", "scale": {"domain": [-0.2, 1.4], "range": [70, 834], "nice": false, "zero": false}},
     "y": {"field": "y", "type": "quantitative", "scale": {"domain": [-87.43, 58], "range": [1198, 689], "nice": false, "zero": false}}}}
 ]
},
{
 "layer": [
  {"data": {"values": [{}]},
   "mark": {"type": "rect", "fill": "white", "stroke": "black", "strokeWidth": 5},
   "encoding": {
    "x": {"datum": 0, "type": "quantitative", "scale": {"domain": [0, 120], "range": [572, 808], "nice": false, "zero": false},
      "axis": {"orient": "bottom", "offset": -204, "values": [0, 40, 80, 120], "tickSize": 6, "tickWidth": 4, "domainWidth": 5, "labelFontSize": 22, "labelPadding": 0,
        "labelExpr": "format(datum.value, 'd')",
        "title": "Scan rate / V s⁻¹", "titleFontSize": 20, "titleX": 690, "titleY": 43, "titleAlign": "center", "titleBaseline": "middle", "titleAngle": 0}},
    "x2": {"datum": 120},
    "y": {"datum": -60, "type": "quantitative", "scale": {"domain": [-60, 80], "range": [1140, 937], "nice": false, "zero": false},
      "axis": {"orient": "left", "offset": -572, "values": [-60, -40, -20, 0, 20, 40, 60, 80], "tickSize": 6, "tickWidth": 4, "domainWidth": 5, "labelFontSize": 22, "labelPadding": 1,
        "labelExpr": "(datum.value < 0 ? '-' : '') + format(abs(datum.value), 'd')",
        "title": "Current / μA", "titleFontSize": 24, "titleX": -69, "titleY": 1031, "titleAngle": 270, "titleAlign": "center", "titleBaseline": "middle"}},
    "y2": {"datum": 80}
   }},
  {"data": {"name": "RL"},
   "mark": {"type": "line", "color": "black", "strokeWidth": 1.6},
   "encoding": {
    "x": {"field": "x", "type": "quantitative", "scale": {"domain": [0, 120], "range": [572, 808], "nice": false, "zero": false}},
    "y": {"field": "y", "type": "quantitative", "scale": {"domain": [-60, 80], "range": [1140, 937], "nice": false, "zero": false}},
    "detail": {"field": "s"}
   }},
  {"data": {"name": "R"}, "transform": [{"filter": "datum.s == 'pa'"}],
   "mark": {"type": "point", "filled": true, "color": "#F0A060", "size": 55, "opacity": 1},
   "encoding": {
    "x": {"field": "x", "type": "quantitative", "scale": {"domain": [0, 120], "range": [572, 808], "nice": false, "zero": false}},
    "y": {"field": "y", "type": "quantitative", "scale": {"domain": [-60, 80], "range": [1140, 937], "nice": false, "zero": false}}
   }},
  {"data": {"name": "R"}, "transform": [{"filter": "datum.s == 'pc'"}],
   "mark": {"type": "point", "filled": true, "color": "black", "size": 32, "opacity": 1},
   "encoding": {
    "x": {"field": "x", "type": "quantitative", "scale": {"domain": [0, 120], "range": [572, 808], "nice": false, "zero": false}},
    "y": {"field": "y", "type": "quantitative", "scale": {"domain": [-60, 80], "range": [1140, 937], "nice": false, "zero": false}}
   }},
  {"data": {"name": "Rn"}, "transform": [{"filter": "datum.k == 'eq'"}],
   "mark": {"type": "text", "fontSize": 20, "align": "left", "baseline": "middle"},
   "encoding": {"x": {"field": "x", "type": "quantitative", "scale": {"domain": [0, 120], "range": [572, 808], "nice": false, "zero": false}},
     "y": {"field": "y", "type": "quantitative", "scale": {"domain": [-60, 80], "range": [1140, 937], "nice": false, "zero": false}}, "text": {"field": "t"}}},
  {"data": {"name": "Rn"}, "transform": [{"filter": "datum.k == 'I'"}],
   "mark": {"type": "text", "fontSize": 28, "align": "center", "baseline": "middle"},
   "encoding": {"x": {"field": "x", "type": "quantitative", "scale": {"domain": [0, 120], "range": [572, 808], "nice": false, "zero": false}},
     "y": {"field": "y", "type": "quantitative", "scale": {"domain": [-60, 80], "range": [1140, 937], "nice": false, "zero": false}}, "text": {"field": "t"}}},
  {"data": {"name": "Rn"}, "transform": [{"filter": "datum.k == 'sub'"}],
   "mark": {"type": "text", "fontSize": 15, "align": "left", "baseline": "middle"},
   "encoding": {"x": {"field": "x", "type": "quantitative", "scale": {"domain": [0, 120], "range": [572, 808], "nice": false, "zero": false}},
     "y": {"field": "y", "type": "quantitative", "scale": {"domain": [-60, 80], "range": [1140, 937], "nice": false, "zero": false}}, "text": {"field": "t"}}}
 ]
}
],
"resolve": {"scale": {"x": "independent", "y": "independent", "color": "independent"}, "axis": {"x": "independent", "y": "independent"}}
}
